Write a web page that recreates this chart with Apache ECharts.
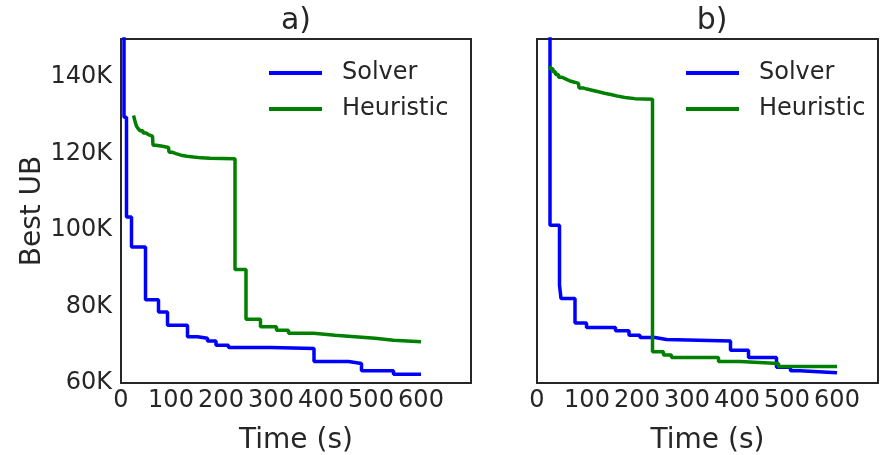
<!DOCTYPE html>
<html>
<head>
<meta charset="utf-8">
<script src="https://cdn.jsdelivr.net/npm/echarts@6/dist/echarts.min.js"></script>
<style>
  html, body { margin: 0; padding: 0; background: #fff; }
  #chart { width: 880px; height: 455px; }
</style>
</head>
<body>
<div id="chart"></div>
<script>
// a) 左图数据 (时间 s, 最优上界)
var solverTimeA = [6, 6, 11, 21, 49, 75, 93, 133, 153, 173, 190, 215, 300, 386, 455, 481, 545, 600];
var solverUbA = [175000, 129500, 103400, 95600, 81800, 78600, 75100, 72100, 71700, 71000, 69900, 69300, 69000, 65600, 65100, 63200, 62300, 62300];
var heurTimeA = [25, 27, 29, 31, 34, 38, 44, 50, 56, 63, 64, 70, 80, 88, 95, 96, 102, 110, 120, 132, 145, 160, 178, 228, 228, 250, 279, 311, 335, 385, 428, 468, 508, 545, 600];
var heurUbA = [130000, 129000, 128000, 127200, 126600, 126000, 125400, 124900, 124600, 124300, 122200, 122000, 121800, 121600, 121500, 120400, 120000, 119600, 119300, 119100, 118900, 118800, 118700, 118600, 89700, 76700, 74700, 73800, 73000, 72500, 72100, 71700, 71200, 70800, 70800];

// b) 右图数据
var solverTimeB = [26, 26, 45, 48, 76, 99, 157, 184, 206, 236, 259, 387, 423, 479, 507, 526, 600];
var solverUbB = [175000, 101300, 85600, 82100, 75700, 74500, 73700, 72500, 71900, 71400, 71000, 68600, 66700, 64100, 63200, 62700, 62700];
var heurTimeB = [24, 27, 32, 37, 43, 50, 58, 66, 75, 83, 84, 92, 100, 110, 123, 135, 150, 163, 180, 196, 231, 231, 253, 269, 363, 406, 483, 600];
var heurUbB = [142800, 142200, 141400, 140700, 140000, 139500, 139000, 138700, 138400, 138200, 137200, 136900, 136600, 136200, 135800, 135400, 135000, 134600, 134400, 134250, 134200, 68200, 67300, 66700, 65600, 65100, 64300, 64300];

var yTicks = [60000, 80000, 100000, 120000, 140000];
var xTicks = [0, 100, 200, 300, 400, 500, 600];

var colors = ['#0000ff', '#008000'];
var textColor = '#262626';
var font = 'DejaVu Sans';

function zip(t, v) {
    return t.map(function (x, i) { return [x, v[i]]; });
}

function xAxisOf(gridIndex, max) {
    return {
        type: 'value',
        gridIndex: gridIndex,
        min: 0,
        max: max,
        interval: 100,
        name: 'Time (s)',
        nameLocation: 'middle',
        nameGap: 44,
        nameTextStyle: { fontFamily: font, fontSize: 28, color: textColor },
        axisLine: { show: false },
        axisTick: { show: false },
        splitLine: { show: false },
        axisLabel: {
            fontFamily: font, fontSize: 24, color: textColor, margin: 6,
            formatter: function (v) { return xTicks.indexOf(v) >= 0 ? String(v) : ''; }
        }
    };
}

function yAxisOf(gridIndex, showLabels) {
    return {
        type: 'value',
        gridIndex: gridIndex,
        min: 60000,
        max: 150000,
        interval: 20000,
        name: showLabels ? 'Best UB' : '',
        nameLocation: 'middle',
        nameGap: 68,
        nameTextStyle: { fontFamily: font, fontSize: 28, color: textColor },
        axisLine: { show: false },
        axisTick: { show: false },
        splitLine: { show: false },
        axisLabel: {
            show: showLabels,
            fontFamily: font, fontSize: 24, color: textColor, margin: 9,
            formatter: function (v) { return yTicks.indexOf(v) >= 0 ? (v / 1000) + 'K' : ''; }
        }
    };
}

function lineOf(name, idx, data, color) {
    return {
        name: name,
        type: 'line',
        xAxisIndex: idx,
        yAxisIndex: idx,
        step: 'end',
        showSymbol: false,
        symbol: 'none',
        clip: true,
        data: data,
        lineStyle: { width: 3.5, color: color },
        itemStyle: { color: color }
    };
}

function legendOf(left) {
    return {
        orient: 'vertical',
        left: left,
        top: 61,
        padding: 0,
        icon: 'rect',
        itemWidth: 53,
        itemHeight: 4,
        itemGap: 12,
        data: [
            { name: 'Solver', itemStyle: { color: colors[0] } },
            { name: 'Heuristic', itemStyle: { color: colors[1] } }
        ],
        textStyle: { fontFamily: font, fontSize: 24, color: textColor, padding: [0, 0, 0, 15] }
    };
}

var option = {
    animation: false,
    backgroundColor: '#fff',
    title: [
        { text: 'a)', left: 296, top: 6, padding: 0, textAlign: 'center',
          textStyle: { fontFamily: font, fontSize: 30, fontWeight: 'normal', color: textColor } },
        { text: 'b)', left: 712, top: 6, padding: 0, textAlign: 'center',
          textStyle: { fontFamily: font, fontSize: 30, fontWeight: 'normal', color: textColor } }
    ],
    legend: [legendOf(269), legendOf(686)],
    grid: [
        { left: 121, top: 39, width: 350, height: 344, outerBoundsMode: 'none', show: true, borderColor: textColor, borderWidth: 2, backgroundColor: '#fff' },
        { left: 537, top: 39, width: 341, height: 344, outerBoundsMode: 'none', show: true, borderColor: textColor, borderWidth: 2, backgroundColor: '#fff' }
    ],
    xAxis: [xAxisOf(0, 700), xAxisOf(1, 682)],
    yAxis: [yAxisOf(0, true), yAxisOf(1, false)],
    series: [
        lineOf('Solver', 0, zip(solverTimeA, solverUbA), colors[0]),
        lineOf('Heuristic', 0, zip(heurTimeA, heurUbA), colors[1]),
        lineOf('Solver', 1, zip(solverTimeB, solverUbB), colors[0]),
        lineOf('Heuristic', 1, zip(heurTimeB, heurUbB), colors[1])
    ]
};

var chart = echarts.init(document.getElementById('chart'));
chart.setOption(option);
</script>
</body>
</html>
